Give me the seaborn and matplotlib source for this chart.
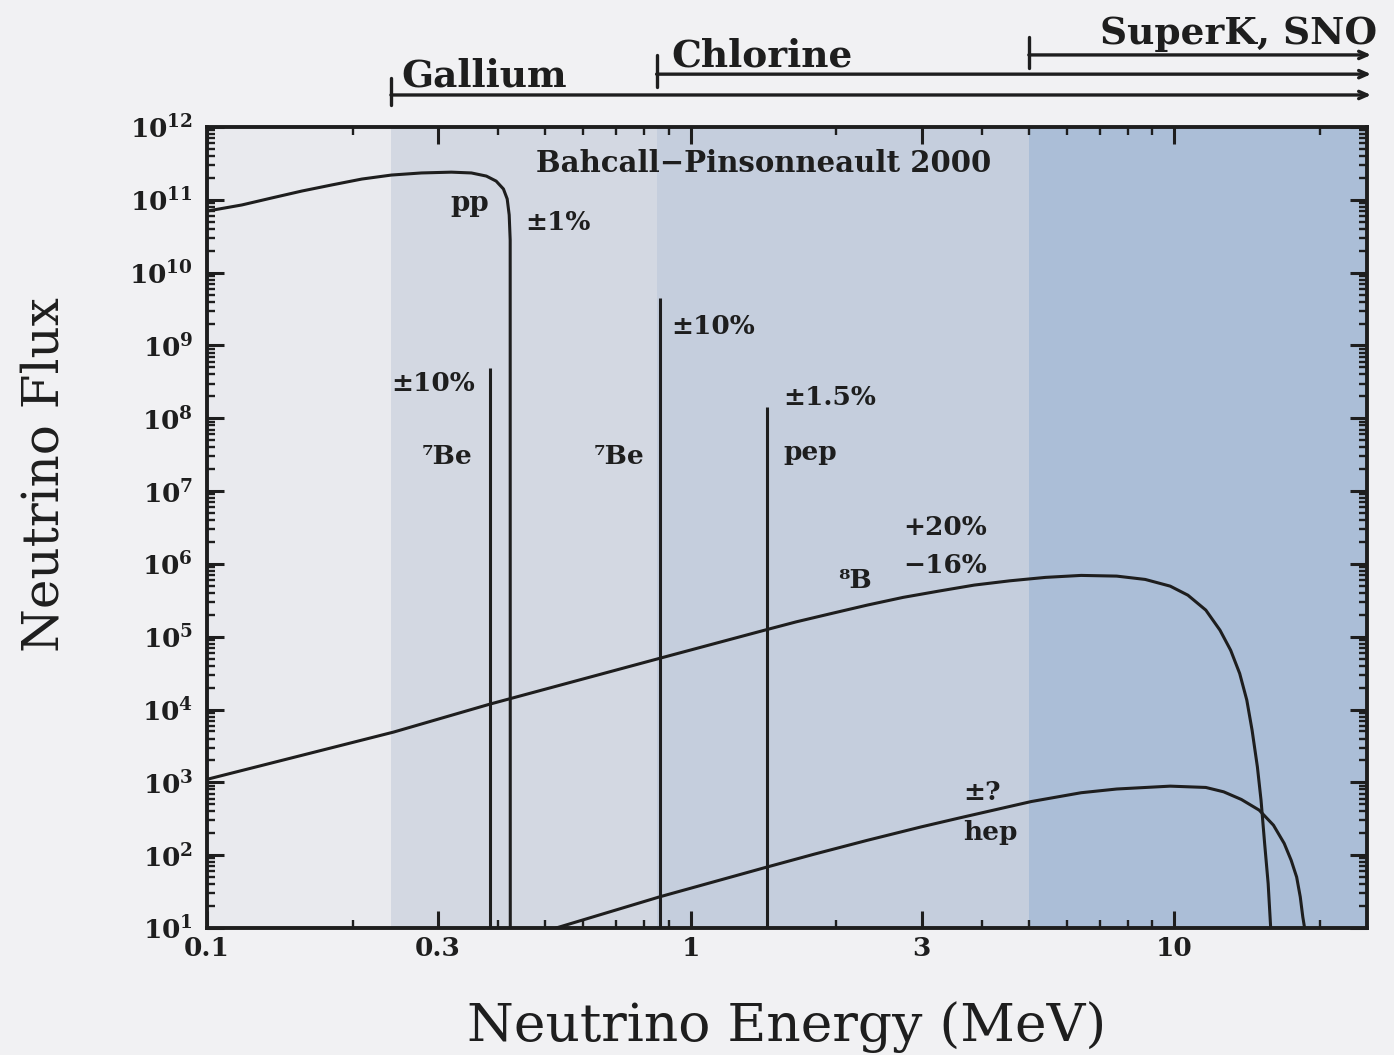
import numpy as np
import pandas as pd
import matplotlib
matplotlib.use("Agg")
import matplotlib.pyplot as plt
import matplotlib.transforms as mtransforms
from matplotlib.ticker import FixedLocator, LogLocator, NullFormatter, FixedFormatter
import seaborn as sns

# ---- solar neutrino spectra (energy in MeV, flux per cm^2 s MeV) ----
pp_energy = [0.100, 0.118, 0.136, 0.157, 0.181, 0.209, 0.2406, 0.2775, 0.320, 0.352,
             0.378, 0.396, 0.410, 0.4174, 0.4214, 0.4234, 0.4236]
pp_flux = [7.0e10, 8.5e10, 1.06e11, 1.32e11, 1.60e11, 1.93e11, 2.19e11, 2.34e11, 2.40e11, 2.34e11,
           2.12e11, 1.81e11, 1.41e11, 1.03e11, 6.2e10, 2.8e10, 1.0e1]

b8_energy = [0.100, 0.243, 0.385, 0.867, 1.441, 1.652, 1.957, 2.318, 2.748, 3.255, 3.857, 4.568,
             5.413, 6.412, 7.596, 8.70, 9.80, 10.66, 11.61, 12.42, 13.07, 13.64, 14.11, 14.47,
             14.84, 15.10, 15.36, 15.62, 15.81]
b8_flux = [1.1e3, 4.9e3, 1.19e4, 5.1e4, 1.26e5, 1.60e5, 2.09e5, 2.72e5, 3.47e5, 4.23e5, 5.12e5, 5.86e5,
           6.53e5, 6.95e5, 6.80e5, 6.12e5, 4.95e5, 3.72e5, 2.32e5, 1.23e5, 6.5e4, 3.13e4, 1.35e4, 5.2e3,
           1.63e3, 569, 145, 40.8, 10]

hep_energy = [0.527, 0.863, 1.441, 1.798, 2.318, 2.991, 3.604, 5.057, 6.412, 7.596, 9.80, 11.61,
              12.64, 13.75, 14.97, 16.02, 16.86, 17.43, 17.89, 18.20, 18.42, 18.58]
hep_flux = [10, 26.8, 69, 103, 160, 244, 326, 545, 720, 810, 887, 851,
            741, 582, 415, 258, 145, 85, 50, 26.7, 14.2, 10]

# line sources: 7Be (two lines) and pep
line_names = ["7Be", "7Be", "pep"]
line_energy = [0.385, 0.863, 1.441]
line_flux = [4.9e8, 4.5e9, 1.43e8]

# detector thresholds (MeV) and band shading
band_edges = [0.1, 0.24, 0.85, 5.0, 25.0]
band_colors = ["#e9eaee", "#d3d8e2", "#c5cedd", "#abbed7"]
detector_names = ["Gallium", "Chlorine", "SuperK, SNO"]

x_major = [0.1, 0.3, 1, 3, 10]
x_major_labels = ["0.1", "0.3", "1", "3", "10"]
x_minor = [0.2, 0.4, 0.5, 0.6, 0.7, 0.8, 0.9, 2, 4, 5, 6, 7, 8, 9, 20]
y_exponents = list(range(1, 13))

sns.set_theme(style="ticks")
plt.rcParams["font.family"] = ["DejaVu Serif", "DejaVu Sans"]
plt.rcParams["mathtext.fontset"] = "dejavuserif"

ink = "#1e1e1e"
fig = plt.figure(figsize=(13.94, 10.55), dpi=100, facecolor="#f1f1f3")
ax = fig.add_axes([0.1485, 0.1204, 0.8321, 0.7592])
ax.set_facecolor(band_colors[0])

ax.set_xscale("log")
ax.set_yscale("log")
ax.set_xlim(band_edges[0], band_edges[-1])
ax.set_ylim(10 ** y_exponents[0], 10 ** y_exponents[-1])

for lo, hi, col in zip(band_edges[:-1], band_edges[1:], band_colors):
    ax.axvspan(lo, hi, color=col, lw=0, zorder=0)

for xs, ys in [(pp_energy, pp_flux), (b8_energy, b8_flux), (hep_energy, hep_flux)]:
    sns.lineplot(x=xs, y=ys, ax=ax, color=ink, lw=2.2, sort=False, estimator=None, zorder=3)

ax.vlines(line_energy, 10 ** y_exponents[0], line_flux, color=ink, lw=2.2, zorder=3)

# ticks on all four sides
ax.xaxis.set_major_locator(FixedLocator(x_major))
ax.xaxis.set_major_formatter(FixedFormatter(x_major_labels))
ax.xaxis.set_minor_locator(FixedLocator(x_minor))
ax.xaxis.set_minor_formatter(NullFormatter())
ax.yaxis.set_major_locator(FixedLocator([10.0 ** e for e in y_exponents]))
ax.yaxis.set_major_formatter(FixedFormatter([r"$\mathbf{10^{%d}}$" % e for e in y_exponents]))
ax.yaxis.set_minor_locator(LogLocator(base=10, subs=np.arange(2, 10), numticks=100))
ax.yaxis.set_minor_formatter(NullFormatter())
ax.tick_params(which="both", direction="in", top=True, right=True, color=ink)
ax.tick_params(which="major", length=12, width=2.2)
ax.tick_params(which="minor", length=6, width=1.7)
ax.tick_params(axis="x", which="major", labelsize=19, pad=6, labelcolor=ink)
ax.tick_params(axis="y", which="major", labelsize=19, pad=10, labelcolor=ink)
for lab in ax.get_xticklabels():
    lab.set_fontweight("bold")
for sp in ax.spines.values():
    sp.set_linewidth(2.8)
    sp.set_color(ink)

ax.set_xlabel("Neutrino Energy (MeV)", fontsize=38.5, color=ink, va="center")
ax.xaxis.set_label_coords(0.5, -0.124)
ax.set_ylabel("Neutrino Flux", fontsize=36, color=ink, va="center")
ax.yaxis.set_label_coords(-0.14, 0.566)

# annotations
bold = dict(fontweight="bold", color=ink, ha="center", va="center")
ax.text(1.414, 3.2e11, "Bahcall\u2212Pinsonneault 2000", fontsize=21, **bold)
ax.text(0.3485, 9.0e10, "pp", fontsize=20, **bold)
ax.text(0.532, 4.95e10, "\u00b11%", fontsize=19, **bold)
ax.text(0.294, 3.05e8, "\u00b110%", fontsize=19, **bold)
ax.text(0.314, 3.03e7, "\u2077Be", fontsize=19, **bold)
ax.text(0.710, 3.03e7, "\u2077Be", fontsize=19, **bold)
ax.text(1.11, 1.85e9, "\u00b110%", fontsize=19, **bold)
ax.text(1.934, 1.95e8, "\u00b11.5%", fontsize=19, **bold)
ax.text(1.768, 3.44e7, "pep", fontsize=19, **bold)
ax.text(2.189, 6.0e5, "\u2078B", fontsize=19, **bold)
ax.text(3.357, 3.2e6, "+20%", fontsize=19, **bold)
ax.text(3.357, 9.6e5, "\u221216%", fontsize=19, **bold)
ax.text(4.0, 733, "\u00b1?", fontsize=19, **bold)
ax.text(4.155, 207, "hep", fontsize=19, **bold)

# detector sensitivity ranges above the frame
trans = mtransforms.blended_transform_factory(ax.transData, ax.transAxes)
arrow_end = 25.5
rows = [
    # start, line y, tick lo, tick hi, label x, label y, alignment
    (band_edges[1], 1.040, 1.027, 1.061, 0.252, 1.050, "left"),
    (band_edges[2], 1.066, 1.050, 1.090, 0.91, 1.076, "left"),
    (band_edges[3], 1.090, 1.074, 1.112, 26.2, 1.104, "right"),
]
for (x0, yl, t0, t1, tx, ty, ha), name in zip(rows, detector_names):
    ax.annotate("", xy=(arrow_end, yl), xytext=(x0, yl), xycoords=trans, textcoords=trans,
                arrowprops=dict(arrowstyle="->,head_length=0.5,head_width=0.22", lw=2.4,
                                color=ink, shrinkA=0, shrinkB=0),
                annotation_clip=False)
    ax.plot([x0, x0], [t0, t1], transform=trans, clip_on=False, color=ink, lw=2.4)
    ax.text(tx, ty, name, transform=trans, ha=ha, va="baseline", fontsize=27, color=ink,
            fontweight="semibold")

fig.savefig("out.png", dpi=100, facecolor=fig.get_facecolor())
